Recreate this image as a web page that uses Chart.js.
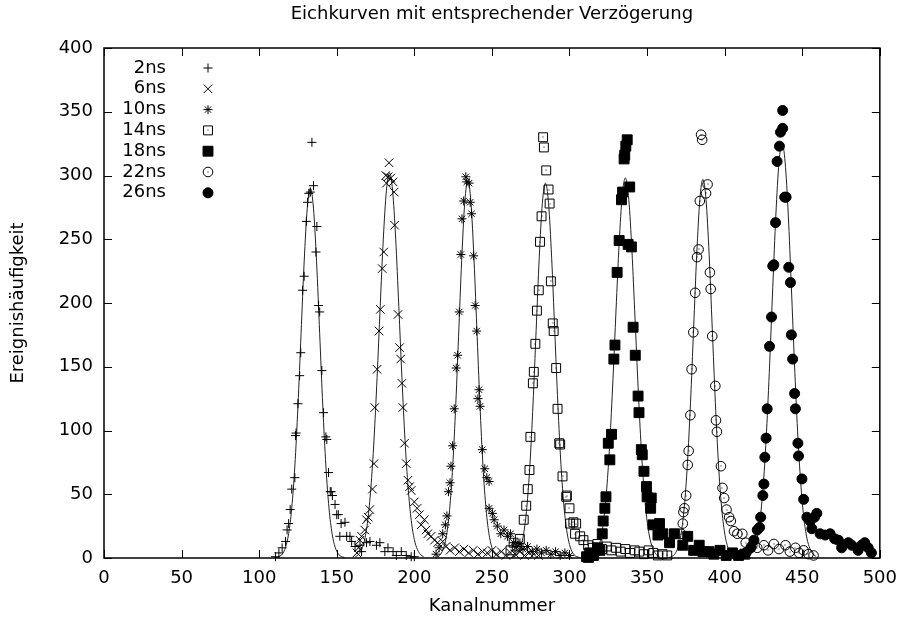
<!DOCTYPE html>
<html>
<head>
<meta charset="utf-8">
<title>Eichkurven</title>
<script src="https://cdn.jsdelivr.net/npm/chart.js@4.4.0/dist/chart.umd.min.js"></script>
<style>
  html, body { margin: 0; padding: 0; background: #fff; }
</style>
</head>
<body>
<canvas id="chart" width="907" height="622"></canvas>
<script>
// series names (legend order)
const seriesNames = ['2ns', '6ns', '10ns', '14ns', '18ns', '22ns', '26ns'];

// axis ranges / tick step
const xRange = [0, 500];
const yRange = [0, 400];
const tickStep = 50;

const p2ns = [[110.5,1],[112.7,4],[114.8,8],[117,13],[118,22],[119,27],[120,38],[121,54],[123,63],[123.4,96],[123.8,98],[125,121],[126.1,143],[126.8,161],[128,210],[129,221],[130.4,264],[131.2,279],[132,286],[133,287],[134,326],[135,292],[136.6,240],[137.2,260],[138.3,198],[139,193],[140.4,147],[141.5,114],[143,95],[143.6,93],[144.7,67],[145.8,52],[146.4,52],[147.2,49],[148.9,42],[150,34],[151,34],[152,17],[152.8,27],[155.3,28],[156.4,17],[158.5,17],[159.6,13],[161.8,9],[165,10],[166,5],[169.2,12],[171.4,13],[175.6,10],[177.8,12],[181,5],[183,8],[186.3,5],[188.4,2],[191.6,5],[194.8,2],[198,1],[200,1]];
const p6ns = [[163,4],[164,8],[165,14],[166,17],[168,22],[169.2,30],[170.3,32],[171.3,38],[173,54],[174,74],[174.5,118],[176,148],[177.3,178],[178.1,195],[179.3,227],[180.3,240],[181.6,300],[182,294],[183.1,299],[183.7,310],[184.8,298],[186.3,295],[187,287],[187.3,261],[189.5,191],[190.5,165],[191.2,156],[192,137],[192.6,118],[193.7,90],[194.8,74],[195.9,61],[197,56],[198,53],[200,44],[201.8,39],[203.3,34],[204.4,26],[206.5,30],[207.6,22],[208.7,19],[210.8,17],[213,14],[215,12],[218.3,13],[220.4,9],[223,6],[226,8],[229,5],[232,7],[235,4],[238,6],[241,3],[244,5],[247,4],[250,6],[253,3],[256,5],[259,2],[262,4],[265,3],[268,5],[271,2],[274,4],[277,3],[280,2]];
const p10ns = [[214,3],[216,8],[218.3,19],[220,26],[221,33],[222,52],[223,59],[223.6,72],[224.7,88],[225.7,117],[227,149],[227.9,159],[229,193],[230,238],[230.7,266],[231.8,280],[233.2,299],[233.8,295],[235.3,294],[236,279],[236.9,270],[238.2,237],[239.2,198],[240.2,178],[241,125],[241.7,132],[242.4,119],[243.8,85],[245.4,70],[246.7,63],[248.2,60],[248.2,39],[250.3,35],[251.4,30],[253.5,25],[255.7,19],[257.8,22],[260,17],[262,19],[264,12],[266,9],[268,11],[270,7],[273,9],[276,5],[279,7],[282,4],[285,6],[288,3],[291,5],[294,2],[297,4],[300,2]];
const p14ns = [[262,6],[264,12],[266,9],[268,15],[270.5,30],[272.1,41],[273.1,54],[274.2,69],[274.8,95],[276.4,137],[277,146],[278,168],[279,194],[280.2,210],[281,248],[282,268],[283,330],[283.5,322],[285,304],[286.5,289],[287.2,278],[288,217],[289.2,184],[289.8,178],[291.4,149],[292.3,117],[293.4,90],[294,89],[295.5,64],[297.9,48],[298.3,49],[300,39],[300.4,27],[302.5,28],[303.6,19],[304.3,27],[306.9,17],[309,14],[312,10],[315,8],[318,11],[321,7],[324,9],[327,6],[330,8],[333,5],[336,7],[339,4],[342,6],[345,5],[348,3],[351,6],[354,4],[357,2],[360,3],[363,2]];
const p18ns = [[311,1],[312.2,0.5],[313,4],[315.4,2],[318,8],[319.6,6],[321.1,19],[321.7,29],[322.8,39],[323.5,48],[325,90],[326,77],[327.1,97],[328.6,156],[329.3,167],[330.7,224],[332,249],[333.5,281],[334.2,287],[335.2,313],[335.6,316],[336.3,323],[337.2,328],[337.8,246],[338.8,291],[339.9,244],[341,181],[342.4,159],[344.2,127],[344.8,114],[346.3,85],[346.9,81],[348,68],[349.6,56],[350,48],[352.3,39],[352.7,47],[353.8,26],[357,18],[358,27],[360.2,19],[364.5,12],[367.6,19],[373,10],[376.2,17],[380,6],[383.6,10],[386,5],[389.9,5],[393,3],[397,6],[401,2],[405,4],[409,2],[413,3]];
const p22ns = [[372,19],[373,27],[373.4,36],[374.1,39],[375.2,49],[376.2,73],[376.8,84],[377.9,112],[378.7,148],[379.8,177],[381,208],[382.2,236],[383.2,242],[384,280],[384.8,332],[385.5,328],[388,286],[389,293],[390.5,224],[391,211],[392,174],[394,135],[394.4,108],[395,99],[397.6,72],[398.6,55],[399.7,47],[401.2,38],[402.9,32],[404,29],[406,21],[408.2,19],[411.4,19],[413.6,12],[417.8,10],[421,8],[425.3,10],[428,6],[431.7,11],[435,7],[439.2,10],[442,5],[445.6,8],[448,4],[450.9,6],[454,3],[457.3,2]];
const p26ns = [[413.6,4],[416.8,8],[418.9,14],[421,22],[422.5,24],[423.2,32],[424.6,49],[425.3,58],[425.9,79],[426.7,94],[427.4,117],[428.9,166],[430.2,189],[431,229],[431.7,230],[432.8,263],[433.8,311],[435.3,323],[436,334],[437.4,337],[437.4,351],[438.7,283],[439.6,283],[441.3,228],[442.4,216],[443,175],[443.8,156],[445.1,129],[445.6,117],[447.2,90],[447.6,80],[449.8,62],[450.9,46],[453,32],[455.1,29],[456.2,23],[457.9,32],[459.4,35],[461.5,19],[464.8,18],[468,19],[470.9,15],[473.3,14],[475.4,8],[479.7,12],[481.9,10],[486,6],[488.2,10],[490.3,12],[492.5,8],[494.6,4]];

// fitted curves [channel, count]
const fit2ns = [[111,0.3],[113,1.2],[115,3.2],[117,8.4],[119,19.1],[121,39.2],[123,72.2],[125,119.2],[127,176],[129,232.3],[131,274.3],[133,290],[135,274.3],[137,232.3],[139,176],[141,119.2],[143,72.2],[145,39.2],[147,19.1],[149,8.4],[151,3.2],[153,1.2],[155,0.3]];
const fit6ns = [[162,1],[164,2.7],[166,6.6],[168,14.5],[170,29.6],[172,55],[174,92.4],[176,141.6],[178,197.2],[180,250.1],[182,288.1],[184,302],[186,288.1],[188,250.1],[190,197.2],[192,141.6],[194,92.4],[196,55],[198,29.6],[200,14.5],[202,6.6],[204,2.7],[206,1]];
const fit10ns = [[214.5,0.8],[216.5,2.4],[218.5,6.5],[220.5,16],[222.5,34.9],[224.5,66.9],[226.5,114.6],[228.5,173.5],[230.5,233.2],[232.5,278.8],[234.5,296],[236.5,278.8],[238.5,233.2],[240.5,173.5],[242.5,114.6],[244.5,66.9],[246.5,34.9],[248.5,16],[250.5,6.5],[252.5,2.4],[254.5,0.8]];
const fit14ns = [[262.5,0.4],[264.5,1.2],[266.5,3.2],[268.5,8.5],[270.5,19.4],[272.5,39.7],[274.5,73.2],[276.5,120.8],[278.5,178.5],[280.5,235.5],[282.5,278.1],[284.5,294],[286.5,278.1],[288.5,235.5],[290.5,178.5],[292.5,120.8],[294.5,73.2],[296.5,39.7],[298.5,19.4],[300.5,8.5],[302.5,3.2],[304.5,1.2],[306.5,0.4]];
const fit18ns = [[314,1],[316,2.6],[318,6.6],[320,14.3],[322,29.2],[324,54.2],[326,91.2],[328,139.8],[330,194.6],[332,246.7],[334,284.3],[336,298],[338,284.3],[340,246.7],[342,194.6],[344,139.8],[346,91.2],[348,54.2],[350,29.2],[352,14.3],[354,6.6],[356,2.6],[358,1]];
const fit22ns = [[364,0.4],[366,1.2],[368,3.3],[370,8.6],[372,19.6],[374,40.1],[376,74],[378,122.1],[380,180.3],[382,237.9],[384,281],[386,297],[388,281],[390,237.9],[392,180.3],[394,122.1],[396,74],[398,40.1],[400,19.6],[402,8.6],[404,3.3],[406,1.2],[408,0.4]];
const fit26ns = [[415,1.1],[417,2.9],[419,7.2],[421,15.6],[423,31.9],[425,59.2],[427,99.5],[429,152.4],[431,212.2],[433,269.1],[435,310.1],[437,325],[439,310.1],[441,269.1],[443,212.2],[445,152.4],[447,99.5],[449,59.2],[451,31.9],[453,15.6],[455,7.2],[457,2.9],[459,1.1]];

const pointSets = [p2ns, p6ns, p10ns, p14ns, p18ns, p22ns, p26ns];
const fitSets = [fit2ns, fit6ns, fit10ns, fit14ns, fit18ns, fit22ns, fit26ns];

// gnuplot-like marker types (dot = small centre dot like gnuplot's open symbols)
const markers = [
  { style: 'cross', radius: 4.5, filled: false, dot: false },
  { style: 'crossRot', radius: 6, filled: false, dot: false },
  { style: 'star', radius: 4.5, filled: false, dot: false },
  { style: 'rect', radius: 6.3, filled: false, dot: true },
  { style: 'rect', radius: 7, filled: true, dot: false },
  { style: 'circle', radius: 4.8, filled: false, dot: true },
  { style: 'circle', radius: 5, filled: true, dot: false }
];

const FONT = "'DejaVu Sans', sans-serif";
Chart.defaults.font.family = FONT;
Chart.defaults.font.size = 18;
Chart.defaults.color = '#000';

const toXY = arr => arr.map(([x, y]) => ({ x, y }));

const datasets = [];
pointSets.forEach((pts, i) => {
  const m = markers[i];
  datasets.push({
    label: seriesNames[i],
    data: toXY(pts),
    showLine: false,
    pointStyle: m.style,
    pointRadius: m.radius,
    pointBorderWidth: 1,
    pointBorderColor: '#000',
    pointBackgroundColor: m.filled ? '#000' : 'rgba(0,0,0,0)',
    clip: false
  });
});
fitSets.forEach((pts, i) => {
  datasets.push({
    label: seriesNames[i] + ' fit',
    data: toXY(pts),
    showLine: true,
    pointRadius: 0,
    borderColor: '#222',
    borderWidth: 1,
    cubicInterpolationMode: 'monotone',
    fill: false
  });
});

// centre dots for the open square / open circle symbols
const dotPlugin = {
  id: 'centreDots',
  afterDatasetsDraw(chart) {
    const ctx = chart.ctx;
    ctx.save();
    ctx.fillStyle = '#000';
    markers.forEach((m, i) => {
      if (!m.dot) return;
      chart.getDatasetMeta(i).data.forEach(pt => {
        ctx.fillRect(Math.round(pt.x) - 0.5, Math.round(pt.y) - 0.5, 1, 1);
      });
    });
    ctx.restore();
  }
};

// box around plot + inward ticks on all four sides
const framePlugin = {
  id: 'frame',
  afterDatasetsDraw(chart) {
    const { ctx, chartArea: a, scales: { x, y } } = chart;
    const len = 8;
    ctx.save();
    ctx.strokeStyle = '#000';
    ctx.lineWidth = 1;
    ctx.beginPath();
    x.ticks.forEach(t => {
      const px = Math.round(x.getPixelForValue(t.value)) + 0.5;
      ctx.moveTo(px, a.bottom); ctx.lineTo(px, a.bottom - len);
      ctx.moveTo(px, a.top); ctx.lineTo(px, a.top + len);
    });
    y.ticks.forEach(t => {
      const py = Math.round(y.getPixelForValue(t.value)) + 0.5;
      ctx.moveTo(a.left, py); ctx.lineTo(a.left + len, py);
      ctx.moveTo(a.right, py); ctx.lineTo(a.right - len, py);
    });
    ctx.stroke();
    ctx.lineWidth = 1.5;
    ctx.strokeRect(a.left, a.top, a.right - a.left, a.bottom - a.top);
    ctx.restore();
  }
};

// key in the upper left corner: label right-aligned, marker to the right
const keyPlugin = {
  id: 'key',
  afterDatasetsDraw(chart) {
    const { ctx, chartArea: a } = chart;
    ctx.save();
    ctx.font = '18px ' + FONT;
    ctx.textAlign = 'right';
    ctx.textBaseline = 'middle';
    seriesNames.forEach((name, i) => {
      const yPos = a.top + 20 + i * 20.8;
      const xPos = a.left + 104;
      ctx.fillStyle = '#000';
      ctx.fillText(name, a.left + 62, yPos);
      const m = markers[i];
      ctx.strokeStyle = '#000';
      ctx.lineWidth = 1;
      ctx.fillStyle = m.filled ? '#000' : 'rgba(0,0,0,0)';
      Chart.helpers.drawPoint(ctx, { pointStyle: m.style, radius: m.radius, rotation: 0, borderWidth: 1 }, xPos, yPos);
      if (m.dot) {
        ctx.fillStyle = '#000';
        ctx.fillRect(Math.round(xPos) - 0.5, Math.round(yPos) - 0.5, 1, 1);
      }
    });
    ctx.restore();
  }
};

new Chart(document.getElementById('chart'), {
  type: 'scatter',
  data: { datasets },
  options: {
    responsive: false,
    animation: false,
    events: [],
    layout: { padding: { left: 0, right: 22, top: 0, bottom: 0 } },
    plugins: {
      legend: { display: false },
      tooltip: { enabled: false },
      title: {
        display: true,
        text: 'Eichkurven mit entsprechender Verzögerung',
        fullSize: false,
        font: { size: 18, weight: 'normal' },
        padding: { top: 4, bottom: 22.4 }
      }
    },
    scales: {
      x: {
        type: 'linear',
        min: xRange[0],
        max: xRange[1],
        grid: { display: false, drawTicks: false },
        border: { display: false },
        ticks: { stepSize: tickStep, padding: 10, maxRotation: 0 },
        title: { display: true, text: 'Kanalnummer', font: { size: 18 }, padding: { top: 0, bottom: 5 } },
        afterFit(scale) { scale.height = 64; }
      },
      y: {
        type: 'linear',
        min: yRange[0],
        max: yRange[1],
        grid: { display: false, drawTicks: false },
        border: { display: false },
        ticks: { stepSize: tickStep, padding: 11 },
        title: { display: true, text: 'Ereignishäufigkeit', font: { size: 18 }, padding: { top: 8, bottom: 0 } },
        afterFit(scale) { scale.width = 104; }
      }
    }
  },
  plugins: [dotPlugin, framePlugin, keyPlugin]
});
</script>
</body>
</html>
